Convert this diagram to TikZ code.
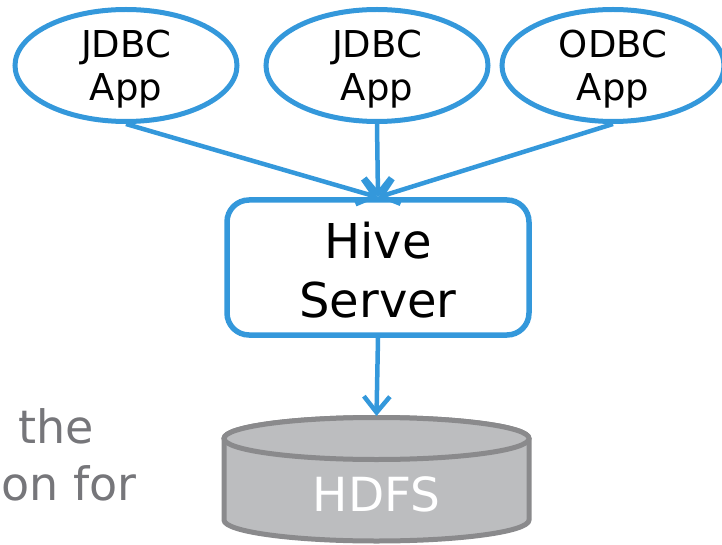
\documentclass[tikz,border=0pt]{standalone}
\usepackage{fontspec}
\setmainfont{DejaVu Sans}
\usetikzlibrary{arrows.meta,shapes.geometric}
\definecolor{hblue}{RGB}{52,152,219}
\definecolor{cylfill}{RGB}{188,189,191}
\definecolor{cylline}{RGB}{138,138,140}
\definecolor{txtgray}{RGB}{118,118,122}
\begin{document}
\begin{tikzpicture}[x=1pt,y=-1pt,
  app/.style={ellipse, draw=hblue, line width=5pt, minimum width=222pt, minimum height=112pt,
    inner sep=0pt},
  apptext/.style={inner sep=0pt, align=center, font=\fontsize{37}{43}\selectfont},
  srv/.style={rectangle, rounded corners=22pt, draw=hblue, line width=5.5pt,
    minimum width=302pt, minimum height=135pt, inner sep=0pt},
  srvtext/.style={inner sep=0pt, align=center, font=\fontsize{48}{59}\selectfont},
  conn/.style={draw=hblue, line width=4.5pt, -{Straight Barb[length=16pt,width=26pt]}},
  cyl/.style={draw=cylline, fill=cylfill, line width=5pt},
  gtext/.style={inner sep=0pt, text=txtgray, font=\fontsize{46}{55}\selectfont},
  ctext/.style={inner sep=0pt, text=white, font=\fontsize{47}{55}\selectfont}]
\useasboundingbox (0,0) rectangle (722,545);
% apps
\node[app] (a1) at (126,65.5) {};
\node[app] (a2) at (377,65.5) {};
\node[app] (a3) at (613,65.5) {};
\node[apptext] (a1t) at ([yshift=-4pt]a1.center) {JDBC\\App};
\node[apptext] (a2t) at ([yshift=-4pt]a2.center) {JDBC\\App};
\node[apptext] (a3t) at ([yshift=-4pt]a3.center) {ODBC\\App};
% server
\node[srv] (srv) at (378,267.5) {};
\node[srvtext] (srvt) at ([yshift=-2.5pt]srv.center) {Hive\\Server};
% cylinder
\path[cyl] (224,438.5) -- (224,520) arc[start angle=180, end angle=0, x radius=152.5, y radius=21]
  -- (529,438.5) arc[start angle=360, end angle=180, x radius=152.5, y radius=21] -- cycle;
\draw[cyl] (376.5,438.5) ellipse[x radius=152.5, y radius=21];
\coordinate (cyltop) at (376.5,416);
\node[ctext] (hdfs) at (376.5,494) {HDFS};
% side text
\node[gtext, anchor=base east] (t1) at (94,443) {the};
\node[gtext, anchor=base east] (t2) at (137,500) {on for};
% connectors
\draw[conn] (a1.south) -- (srv.north);
\draw[conn] (a2.south) -- (srv.north);
\draw[conn] (a3.south) -- (srv.north);
\draw[conn] (srv.south) -- (cyltop);
\end{tikzpicture}
\end{document}
